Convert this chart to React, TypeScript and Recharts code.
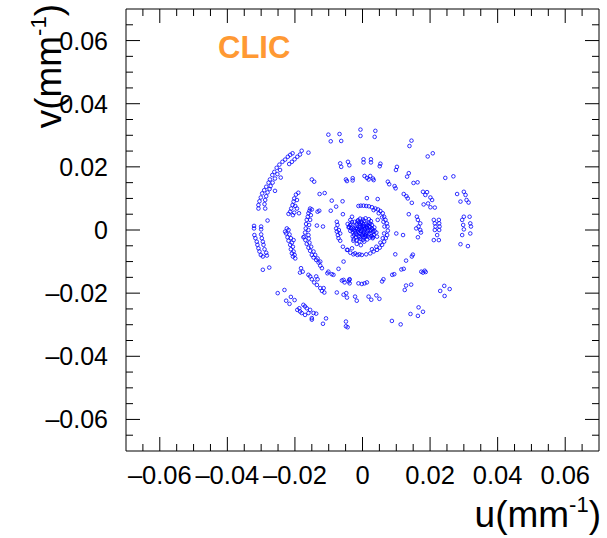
import React from 'react';
import { ScatterChart, Scatter, XAxis, YAxis } from 'recharts';

type Pt = [number, number];

// Dense core of the pattern around the origin
const core: Pt[] = [
  [0.0000, 0.0000], [0.0008, 0.0005], [-0.0007, 0.0009], [0.0015, -0.0003], [-0.0014, -0.0006],
  [0.0003, 0.0018], [-0.0002, -0.0017], [0.0022, 0.0009], [-0.0021, 0.0012], [0.0010, -0.0019],
  [-0.0011, 0.0024], [0.0026, -0.0010], [-0.0025, -0.0015], [0.0005, 0.0029], [-0.0006, -0.0028],
  [0.0030, 0.0002], [-0.0030, 0.0001], [0.0018, 0.0023], [-0.0019, -0.0023], [0.0021, -0.0024],
  [-0.0023, 0.0026], [0.0012, 0.0011], [-0.0010, -0.0010], [0.0004, -0.0008], [-0.0003, 0.0004],
  [0.0017, 0.0001], [-0.0016, 0.0003], [0.0009, -0.0011], [-0.0008, 0.0015], [0.0028, 0.0016],
  [-0.0029, -0.0007], [0.0001, 0.0033], [0.0002, -0.0031], [0.0033, -0.0016], [-0.0033, 0.0018],
  [0.0014, -0.0030], [-0.0013, 0.0031], [0.0025, 0.0028], [-0.0026, -0.0029], [0.0006, 0.0002],
  [-0.0005, -0.0003], [0.0011, 0.0020], [-0.0012, -0.0020], [0.0020, -0.0012], [-0.0020, 0.0006],
  [0.0007, -0.0023], [-0.0009, 0.0020], [0.0035, 0.0008], [-0.0036, -0.0003], [0.0019, 0.0034],
  [-0.0017, -0.0033], [0.0000, 0.0012], [0.0002, -0.0013], [0.0013, 0.0006], [-0.0013, -0.0001],
  [0.0024, -0.0001], [-0.0024, -0.0002], [-0.0002, 0.0026], [0.0003, -0.0024], [0.0030, -0.0026],
  [-0.0031, 0.0025], [0.0041, -0.0008], [-0.0040, 0.0010],
  [0.0005, 0.0013], [-0.0004, 0.0021], [0.0016, 0.0016], [-0.0017, 0.0018], [0.0027, 0.0005],
  [-0.0026, 0.0005], [0.0008, -0.0016], [-0.0008, -0.0022], [0.0016, -0.0020], [-0.0021, -0.0009],
  [0.0031, -0.0005], [-0.0034, 0.0006], [0.0009, 0.0037], [-0.0007, 0.0036], [0.0005, -0.0037],
  [-0.0009, -0.0036], [0.0023, 0.0020], [-0.0015, 0.0027], [0.0027, -0.0019], [-0.0029, -0.0020],
  [0.0004, 0.0008], [-0.0010, 0.0003], [0.0013, -0.0008], [-0.0005, -0.0012], [0.0020, 0.0012],
  [-0.0018, -0.0014], [0.0036, -0.0003], [-0.0037, 0.0015],
];

// First ring around the core
const innerRing: Pt[] = [
  [-0.0012, 0.0076], [-0.0005, 0.0077], [0.0003, 0.0077], [0.0011, 0.0076], [0.0019, 0.0075],
  [0.0028, 0.0072], [0.0038, 0.0068], [0.0046, 0.0065], [0.0053, 0.0060], [0.0060, 0.0053],
  [0.0064, 0.0042], [0.0068, 0.0032], [0.0072, 0.0021], [0.0074, 0.0011], [0.0075, -0.0002],
  [0.0073, -0.0016], [0.0069, -0.0026], [0.0064, -0.0037], [0.0058, -0.0047], [0.0051, -0.0056],
  [0.0043, -0.0063], [0.0033, -0.0068], [0.0023, -0.0074], [0.0011, -0.0077], [-0.0002, -0.0079],
  [-0.0015, -0.0079], [-0.0027, -0.0077], [-0.0036, -0.0072], [-0.0046, -0.0063],
  [0.0033, 0.0063], [0.0048, 0.0053], [0.0058, 0.0040], [0.0062, 0.0026], [0.0065, 0.0011],
  [0.0064, -0.0011], [0.0060, -0.0026], [0.0053, -0.0040], [0.0041, -0.0053], [0.0028, -0.0061],
  [-0.0022, -0.0074], [-0.0009, -0.0077],
  [-0.0076, 0.0026], [-0.0074, 0.0016], [-0.0078, 0.0005], [-0.0076, -0.0005], [-0.0073, -0.0016],
  [-0.0071, -0.0026], [-0.0066, -0.0034], [-0.0070, 0.0000], [-0.0066, -0.0011],
  [-0.0036, 0.0032], [-0.0044, 0.0019], [-0.0041, 0.0008], [-0.0027, -0.0034], [-0.0017, -0.0044],
  [-0.0005, -0.0048], [0.0031, -0.0023], [0.0043, -0.0021], [-0.0031, 0.0042], [0.0045, 0.0032],
];

// Arc segment on the left, second ring
const thirdArc: Pt[] = [
  [-0.0155, 0.0068], [-0.0157, 0.0061], [-0.0160, 0.0053], [-0.0162, 0.0042], [-0.0165, 0.0032],
  [-0.0167, 0.0019], [-0.0168, 0.0005], [-0.0170, -0.0008], [-0.0172, -0.0021], [-0.0169, -0.0032],
  [-0.0165, -0.0044], [-0.0160, -0.0056], [-0.0155, -0.0066], [-0.0150, -0.0079], [-0.0145, -0.0087],
  [-0.0137, -0.0095], [-0.0130, -0.0103], [-0.0125, -0.0113], [-0.0120, -0.0121],
  [-0.0150, 0.0065], [-0.0153, 0.0047], [-0.0155, 0.0032], [-0.0158, 0.0016], [-0.0160, 0.0000],
  [-0.0160, -0.0016], [-0.0159, -0.0027], [-0.0157, -0.0040], [-0.0152, -0.0053], [-0.0145, -0.0068],
  [-0.0140, -0.0079], [-0.0133, -0.0090], [-0.0125, -0.0100],
  [-0.0135, 0.0014], [-0.0117, 0.0011], [-0.0175, -0.0023],
];

// Arc segment further out on the left
const secondArc: Pt[] = [
  [-0.0190, 0.0118], [-0.0197, 0.0112], [-0.0202, 0.0100], [-0.0194, 0.0095], [-0.0204, 0.0090],
  [-0.0207, 0.0079], [-0.0199, 0.0076], [-0.0211, 0.0068], [-0.0194, 0.0068], [-0.0214, 0.0058],
  [-0.0202, 0.0055], [-0.0188, 0.0053], [-0.0206, 0.0047], [-0.0219, 0.0051],
  [-0.0224, 0.0005], [-0.0219, 0.0000], [-0.0226, -0.0011], [-0.0216, -0.0014], [-0.0222, -0.0023],
  [-0.0212, -0.0026], [-0.0219, -0.0034], [-0.0209, -0.0040], [-0.0214, -0.0047], [-0.0206, -0.0053],
  [-0.0212, -0.0061], [-0.0204, -0.0068], [-0.0209, -0.0074], [-0.0201, -0.0079], [-0.0206, -0.0084],
  [-0.0199, -0.0090], [-0.0229, -0.0005], [-0.0204, -0.0032],
];

// Outermost arc, upper left
const upperLeftArc: Pt[] = [
  [-0.0207, 0.0243], [-0.0214, 0.0238], [-0.0221, 0.0232], [-0.0229, 0.0223], [-0.0237, 0.0216],
  [-0.0246, 0.0207], [-0.0254, 0.0197], [-0.0261, 0.0184], [-0.0267, 0.0174], [-0.0274, 0.0160],
  [-0.0278, 0.0150], [-0.0285, 0.0137], [-0.0291, 0.0126], [-0.0297, 0.0116], [-0.0301, 0.0103],
  [-0.0305, 0.0091], [-0.0308, 0.0079], [-0.0308, 0.0068],
  [-0.0180, 0.0251], [-0.0185, 0.0239], [-0.0193, 0.0232], [-0.0201, 0.0224], [-0.0209, 0.0216],
  [-0.0217, 0.0209], [-0.0244, 0.0190], [-0.0252, 0.0177], [-0.0259, 0.0163], [-0.0266, 0.0150],
  [-0.0272, 0.0139], [-0.0275, 0.0130], [-0.0281, 0.0119], [-0.0285, 0.0107], [-0.0288, 0.0095],
  [-0.0290, 0.0082], [-0.0288, 0.0068],
  [-0.0160, 0.0245], [-0.0242, 0.0166], [-0.0259, 0.0124],
];

// Outermost arc, left side
const outerLeftColumn: Pt[] = [
  [-0.0321, 0.0013], [-0.0321, 0.0005], [-0.0300, 0.0011], [-0.0300, 0.0002], [-0.0320, -0.0016],
  [-0.0317, -0.0026], [-0.0313, -0.0037], [-0.0311, -0.0047], [-0.0308, -0.0058], [-0.0305, -0.0068],
  [-0.0301, -0.0079], [-0.0295, -0.0084], [-0.0300, -0.0014], [-0.0298, -0.0026], [-0.0295, -0.0037],
  [-0.0293, -0.0047], [-0.0290, -0.0061], [-0.0285, -0.0072], [-0.0283, -0.0081], [-0.0281, 0.0030],
  [-0.0295, -0.0126], [-0.0276, -0.0119],
];

// Lower left arcs
const lowerLeftArc: Pt[] = [
  [-0.0251, -0.0200], [-0.0231, -0.0190], [-0.0226, -0.0224], [-0.0212, -0.0212], [-0.0216, -0.0234],
  [-0.0201, -0.0222], [-0.0193, -0.0253], [-0.0185, -0.0258], [-0.0175, -0.0237], [-0.0170, -0.0242],
  [-0.0165, -0.0248], [-0.0155, -0.0253], [-0.0145, -0.0263], [-0.0150, -0.0279], [-0.0137, -0.0265],
  [-0.0180, -0.0263], [-0.0160, -0.0263], [-0.0150, -0.0284], [-0.0117, -0.0297], [-0.0108, -0.0280],
  [-0.0170, -0.0269], [-0.0187, -0.0248],
];

const midLowerLeft: Pt[] = [
  [-0.0182, -0.0121], [-0.0177, -0.0132], [-0.0185, -0.0135], [-0.0160, -0.0142], [-0.0155, -0.0147],
  [-0.0150, -0.0156], [-0.0143, -0.0166], [-0.0135, -0.0174], [-0.0125, -0.0184], [-0.0115, -0.0184],
  [-0.0113, -0.0198], [-0.0120, -0.0193], [-0.0137, -0.0147], [-0.0133, -0.0156], [-0.0101, -0.0132],
  [-0.0104, -0.0137], [-0.0091, -0.0140], [-0.0086, -0.0142], [-0.0071, -0.0123],
];

// Scattered points above the core
const topScatter: Pt[] = [
  [-0.0101, 0.0302], [-0.0094, 0.0281], [-0.0068, 0.0304], [-0.0063, 0.0282], [-0.0006, 0.0318],
  [-0.0006, 0.0298], [0.0038, 0.0314], [0.0036, 0.0295], [0.0145, 0.0283], [0.0139, 0.0266],
  [0.0208, 0.0243], [0.0193, 0.0233], [0.0245, 0.0165], [0.0269, 0.0170],
];

const upperBand: Pt[] = [
  [-0.0066, 0.0211], [-0.0063, 0.0200], [-0.0043, 0.0216], [-0.0039, 0.0205], [0.0003, 0.0224],
  [0.0003, 0.0214], [0.0025, 0.0224], [0.0025, 0.0214], [0.0053, 0.0210], [0.0051, 0.0202],
  [0.0102, 0.0200], [0.0099, 0.0190], [0.0137, 0.0180], [0.0132, 0.0169],
  [-0.0150, 0.0160], [-0.0143, 0.0153], [-0.0049, 0.0160], [-0.0046, 0.0155], [-0.0029, 0.0164],
  [-0.0029, 0.0157], [0.0006, 0.0171], [0.0013, 0.0165], [0.0018, 0.0160], [0.0023, 0.0171],
  [0.0031, 0.0163], [0.0033, 0.0158], [0.0075, 0.0153], [0.0079, 0.0145], [0.0095, 0.0139],
  [0.0098, 0.0132], [0.0151, 0.0149], [0.0163, 0.0151],
];

const midScatter: Pt[] = [
  [-0.0127, 0.0114], [-0.0112, 0.0117], [-0.0091, 0.0093], [-0.0059, 0.0091], [0.0013, 0.0101],
  [0.0045, 0.0098], [-0.0078, 0.0074], [-0.0058, 0.0050], [-0.0094, 0.0061], [-0.0128, 0.0061],
  [-0.0133, 0.0058],
];

// Arc segments right of the core
const rightArcs: Pt[] = [
  [0.0122, 0.0114], [0.0130, 0.0107], [0.0134, 0.0100], [0.0146, 0.0086], [0.0179, 0.0121],
  [0.0191, 0.0120], [0.0186, 0.0111], [0.0201, 0.0103], [0.0206, 0.0095], [0.0194, 0.0084],
  [0.0181, 0.0081], [0.0201, 0.0072], [0.0214, 0.0071],
  [0.0280, 0.0114], [0.0300, 0.0121], [0.0305, 0.0111], [0.0308, 0.0095], [0.0290, 0.0090],
  [0.0314, 0.0087],
  [0.0137, 0.0050], [0.0161, 0.0042], [0.0164, 0.0032], [0.0171, 0.0021], [0.0166, 0.0011],
  [0.0171, 0.0000], [0.0159, 0.0005], [0.0173, -0.0008], [0.0164, -0.0023], [0.0120, -0.0016],
  [0.0100, -0.0011],
  [0.0211, 0.0032], [0.0226, 0.0032], [0.0214, 0.0021], [0.0227, 0.0021], [0.0216, 0.0011],
  [0.0228, 0.0011], [0.0214, 0.0000], [0.0227, 0.0000], [0.0221, -0.0016], [0.0211, -0.0032],
  [0.0226, -0.0032],
  [0.0300, 0.0042], [0.0317, 0.0042], [0.0295, 0.0032], [0.0319, 0.0021], [0.0298, 0.0016],
  [0.0321, 0.0011], [0.0300, 0.0002], [0.0319, -0.0011], [0.0295, -0.0016], [0.0290, -0.0045],
  [0.0312, -0.0051],
];

const lowerRight: Pt[] = [
  [0.0097, -0.0077], [0.0149, -0.0078], [0.0146, -0.0084], [0.0129, -0.0097], [0.0122, -0.0123],
  [0.0115, -0.0125], [0.0088, -0.0142], [0.0094, -0.0140], [0.0174, -0.0132], [0.0184, -0.0129],
  [0.0187, -0.0133], [0.0179, -0.0135],
  [0.0242, -0.0177], [0.0258, -0.0187], [0.0230, -0.0193], [0.0243, -0.0209], [0.0166, -0.0245],
  [0.0179, -0.0259], [0.0142, -0.0266], [0.0164, -0.0272], [0.0087, -0.0288], [0.0113, -0.0299],
];

const lowerMiddle: Pt[] = [
  [-0.0076, -0.0198], [-0.0056, -0.0205], [-0.0048, -0.0200], [-0.0046, -0.0214], [-0.0022, -0.0211],
  [-0.0017, -0.0224], [0.0018, -0.0211], [0.0026, -0.0221], [0.0041, -0.0207], [0.0050, -0.0218],
  [-0.0049, -0.0290], [-0.0049, -0.0305], [-0.0044, -0.0308], [-0.0012, -0.0169], [-0.0002, -0.0171],
  [0.0006, -0.0169], [0.0013, -0.0166], [-0.0061, -0.0160], [-0.0041, -0.0163], [-0.0038, -0.0156],
  [0.0062, -0.0156], [0.0058, -0.0163], [0.0129, -0.0176], [0.0144, -0.0173], [0.0125, -0.0190],
  [-0.0056, -0.0158], [-0.0053, -0.0166], [-0.0039, -0.0158], [-0.0038, -0.0169], [-0.0056, -0.0100],
  [-0.0058, -0.0053], [-0.0044, -0.0063], [-0.0031, -0.0058],
];

const pointGroups: Pt[][] = [
  core, innerRing, thirdArc, secondArc, upperLeftArc, outerLeftColumn, lowerLeftArc,
  midLowerLeft, topScatter, upperBand, midScatter, rightArcs, lowerRight, lowerMiddle,
];

const points = pointGroups.flat().map(([u, v]) => ({ u, v }));

// Axis range and tick values (mm^-1)
const axisDomain: [number, number] = [-0.07, 0.07];
const majorTicks = [-0.06, -0.04, -0.02, 0, 0.02, 0.04, 0.06];
const allTicks = [
  -0.065, -0.06, -0.055, -0.05, -0.045, -0.04, -0.035, -0.03, -0.025, -0.02, -0.015, -0.01, -0.005,
  0, 0.005, 0.01, 0.015, 0.02, 0.025, 0.03, 0.035, 0.04, 0.045, 0.05, 0.055, 0.06, 0.065,
];

const FONT = '"Liberation Sans", Arial, Helvetica, sans-serif';
const FRAME = '#000000';
const MAJOR_LEN = 14;
const MINOR_LEN = 7;

const isMajor = (v: number) => majorTicks.some((m) => Math.abs(m - v) < 1e-9);
const fmt = (v: number) => (Math.abs(v) < 1e-9 ? '0' : (v < 0 ? '\u2013' : '') + Math.abs(v).toFixed(2));

const BottomTick = (props: any) => {
  const { x, y, payload } = props;
  const major = isMajor(payload.value);
  return (
    <g>
      <line x1={x} x2={x} y1={y} y2={y - (major ? MAJOR_LEN : MINOR_LEN)} stroke={FRAME} strokeWidth={1} />
      {major && (
        <text x={x} y={y + 33} textAnchor="middle" fontSize={25.5} fontFamily={FONT} fill="#000">
          {fmt(payload.value)}
        </text>
      )}
    </g>
  );
};

const TopTick = (props: any) => {
  const { x, y, payload } = props;
  const major = isMajor(payload.value);
  return <line x1={x} x2={x} y1={y} y2={y + (major ? MAJOR_LEN : MINOR_LEN)} stroke={FRAME} strokeWidth={1} />;
};

const LeftTick = (props: any) => {
  const { x, y, payload } = props;
  const major = isMajor(payload.value);
  return (
    <g>
      <line x1={x} x2={x + (major ? MAJOR_LEN : MINOR_LEN)} y1={y} y2={y} stroke={FRAME} strokeWidth={1} />
      {major && (
        <text x={x - 18} y={y + 9} textAnchor="end" fontSize={25} fontFamily={FONT} fill="#000">
          {fmt(payload.value)}
        </text>
      )}
    </g>
  );
};

const RightTick = (props: any) => {
  const { x, y, payload } = props;
  const major = isMajor(payload.value);
  return <line x1={x} x2={x - (major ? MAJOR_LEN : MINOR_LEN)} y1={y} y2={y} stroke={FRAME} strokeWidth={1} />;
};

const OpenCircle = (props: any) => (
  <circle cx={props.cx} cy={props.cy} r={1.8} fill="none" stroke="#0000ff" strokeWidth={0.8} />
);

export default function App() {
  const W = 607;
  const H = 538;
  return (
    <div style={{ position: 'absolute', left: 0, top: 0, width: W, height: H, background: '#fff' }}>
      <ScatterChart width={W} height={H} margin={{ top: 0, right: 0, bottom: 0, left: 0 }}>
        <XAxis
          xAxisId="bottom"
          type="number"
          dataKey="u"
          orientation="bottom"
          domain={axisDomain}
          allowDataOverflow
          ticks={allTicks}
          interval={0}
          height={87}
          tickSize={0}
          tickMargin={0}
          tickLine={false}
          axisLine={{ stroke: FRAME, strokeWidth: 1 }}
          tick={<BottomTick />}
        />
        <XAxis
          xAxisId="top"
          type="number"
          dataKey="u"
          orientation="top"
          domain={axisDomain}
          allowDataOverflow
          ticks={allTicks}
          interval={0}
          height={9}
          tickSize={0}
          tickMargin={0}
          tickLine={false}
          axisLine={{ stroke: FRAME, strokeWidth: 1 }}
          tick={<TopTick />}
        />
        <YAxis
          yAxisId="left"
          type="number"
          dataKey="v"
          orientation="left"
          domain={axisDomain}
          allowDataOverflow
          ticks={allTicks}
          interval={0}
          width={126}
          tickSize={0}
          tickMargin={0}
          tickLine={false}
          axisLine={{ stroke: FRAME, strokeWidth: 1 }}
          tick={<LeftTick />}
        />
        <YAxis
          yAxisId="right"
          type="number"
          dataKey="v"
          orientation="right"
          domain={axisDomain}
          allowDataOverflow
          ticks={allTicks}
          interval={0}
          width={8}
          tickSize={0}
          tickMargin={0}
          tickLine={false}
          axisLine={{ stroke: FRAME, strokeWidth: 1 }}
          tick={<RightTick />}
        />
        <Scatter
          xAxisId="bottom"
          yAxisId="left"
          data={points}
          shape={OpenCircle}
          isAnimationActive={false}
        />
      </ScatterChart>
      <svg
        width={W}
        height={H}
        style={{ position: 'absolute', left: 0, top: 0, pointerEvents: 'none' }}
      >
        <text x={218} y={58} fontSize={31} fontWeight="bold" fontFamily={FONT} fill="#ff9933">
          CLIC
        </text>
        <text x={601} y={527} textAnchor="end" fontSize={37} fontFamily={FONT} fill="#000">
          <tspan>u(mm</tspan>
          <tspan fontSize={22} dy={-15}>-1</tspan>
          <tspan dy={15}>)</tspan>
        </text>
        <text
          x={61}
          y={4}
          textAnchor="end"
          fontSize={37}
          fontFamily={FONT}
          fill="#000"
          transform="rotate(-90, 61, 4)"
        >
          <tspan>v(mm</tspan>
          <tspan fontSize={22} dy={-15}>-1</tspan>
          <tspan dy={15}>)</tspan>
        </text>
      </svg>
    </div>
  );
}
